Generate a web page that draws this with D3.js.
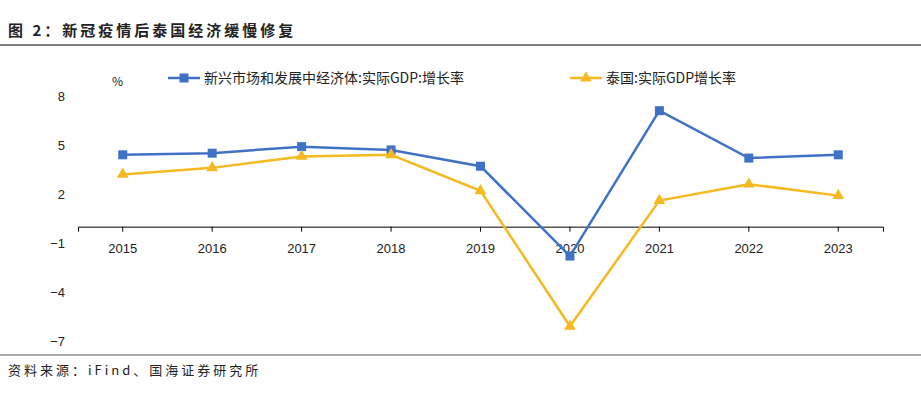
<!DOCTYPE html><html><head><meta charset="utf-8">
<script src="https://cdn.jsdelivr.net/npm/d3@7"></script>
<style>body{margin:0;background:#fff;font-family:"Noto Sans CJK SC","Noto Sans",sans-serif}</style></head><body>
<svg id="c" width="921" height="405"></svg>
<script>
const categories=["2015","2016","2017","2018","2019","2020","2021","2022","2023"];
const emergingGDP=[4.4,4.5,4.9,4.7,3.7,-1.8,7.1,4.2,4.4];
const thailandGDP=[3.2,3.6,4.3,4.4,2.2,-6.1,1.6,2.6,1.9];
const yTicks=[8,5,2,-1,-4,-7];
const seriesNames=["新兴市场和发展中经济体:实际GDP:增长率","泰国:实际GDP增长率"];
const colors=["#3f72c4","#f5b921"];
const svg=d3.select("#c");
svg.append("text").attr("x",8).attr("y",36).attr("font-size",15).attr("font-weight","bold").attr("letter-spacing",3).attr("fill","#222").text("图 2：新冠疫情后泰国经济缓慢修复");
svg.append("line").attr("x1",0).attr("x2",921).attr("y1",45).attr("y2",45).attr("stroke","#555").attr("stroke-width",1.5);
svg.append("line").attr("x1",0).attr("x2",921).attr("y1",355).attr("y2",355).attr("stroke","#555").attr("stroke-width",1);
svg.append("text").attr("x",8).attr("y",375).attr("font-size",13).attr("letter-spacing",3).attr("fill","#222").text("资料来源：iFind、国海证券研究所");
const x=d3.scaleBand().domain(categories).range([78,883]);
const y=d3.scaleLinear().domain([-7,8]).range([341,96]);
const g=svg.append("g");
g.append("g").attr("transform","translate(0,"+y(0)+")").call(d3.axisBottom(x).tickSizeOuter(0).tickSize(5).tickPadding(12))
 .call(a=>{a.select(".domain").attr("stroke","#000");a.selectAll("text").attr("font-size",13).attr("fill","#222").attr("font-family","Liberation Sans, Arial");});
g.append("g").attr("transform","translate(65,0)").call(d3.axisLeft(y).tickValues(yTicks).tickSize(0).tickPadding(0))
 .call(a=>{a.select(".domain").remove();a.selectAll("text").attr("font-size",13).attr("fill","#222").attr("font-family","Liberation Sans, Arial");});
svg.append("text").attr("x",112).attr("y",86).attr("font-size",12).attr("fill","#222").text("%");
const cx=d=>x(d)+x.bandwidth()/2;
[emergingGDP,thailandGDP].forEach((vals,i)=>{
 const pts=categories.map((c,j)=>[cx(c),y(vals[j])]);
 svg.append("path").attr("d",d3.line()(pts)).attr("fill","none").attr("stroke",colors[i]).attr("stroke-width",2.5);
 pts.forEach(p=>{
  if(i===0) svg.append("rect").attr("x",p[0]-4.5).attr("y",p[1]-4.5).attr("width",9).attr("height",9).attr("fill",colors[0]);
  else svg.append("path").attr("d",d3.symbol(d3.symbolTriangle,60)()).attr("transform",`translate(${p[0]},${p[1]})`).attr("fill",colors[1]);
 });
});
const lx=[168,570];
seriesNames.forEach((n,i)=>{
 svg.append("line").attr("x1",lx[i]).attr("x2",lx[i]+32).attr("y1",78).attr("y2",78).attr("stroke",colors[i]).attr("stroke-width",2.5);
 if(i===0) svg.append("rect").attr("x",lx[i]+11.5).attr("y",73.5).attr("width",9).attr("height",9).attr("fill",colors[0]);
 else svg.append("path").attr("d",d3.symbol(d3.symbolTriangle,60)()).attr("transform",`translate(${lx[i]+16},78)`).attr("fill",colors[1]);
 svg.append("text").attr("x",lx[i]+36).attr("y",83).attr("font-size",14).attr("fill","#222").text(n);
});
</script></body></html>
